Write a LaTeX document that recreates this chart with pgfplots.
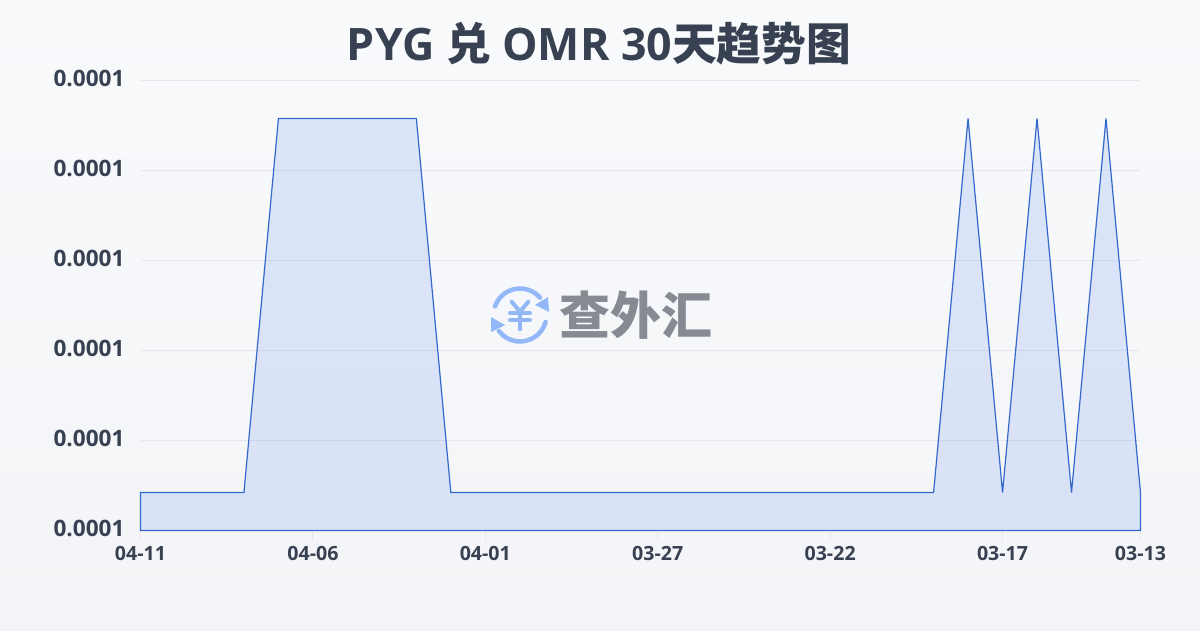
\documentclass[border=0pt]{standalone}
\usepackage{pgfplots}
\pgfplotsset{compat=1.18}
\usepackage{fontspec}
\setmainfont{Open Sans}
\newfontfamily\cjk{Noto Sans CJK SC}
\definecolor{txt}{HTML}{374151}
\definecolor{gridc}{HTML}{E5E7EB}
\definecolor{linec}{HTML}{3568CC}
\definecolor{fillc}{HTML}{2563EB}
\definecolor{logob}{HTML}{93B8F7}
\definecolor{logog}{HTML}{858A93}
\definecolor{bgtop}{HTML}{F8FAFC}
\definecolor{bgbot}{HTML}{F2F4F7}
\pgfplotstableread{
x y
0 0.000100844
1 0.000100844
2 0.000100844
3 0.000100844
4 0.000109156
5 0.000109156
6 0.000109156
7 0.000109156
8 0.000109156
9 0.000100844
10 0.000100844
11 0.000100844
12 0.000100844
13 0.000100844
14 0.000100844
15 0.000100844
16 0.000100844
17 0.000100844
18 0.000100844
19 0.000100844
20 0.000100844
21 0.000100844
22 0.000100844
23 0.000100844
24 0.000109156
25 0.000100844
26 0.000109156
27 0.000100844
28 0.000109156
29 0.000100844
}\ratetable
\begin{document}
\begin{tikzpicture}[x=1pt,y=1pt]
\shade[top color=bgtop, bottom color=bgbot] (0,0) rectangle (1200,630);
\begin{axis}[
  at={(140.5pt,99.5pt)}, anchor=south west,
  width=1000pt, height=450pt, scale only axis,
  xmin=0, xmax=29, ymin=0.0001, ymax=0.00011,
  axis line style={draw=none},
  xtick={0,5,10,15,20,25,29},
  xticklabels={04-11,04-06,04-01,03-27,03-22,03-17,03-13},
  ytick={0.0001,0.000102,0.000104,0.000106,0.000108,0.00011},
  yticklabels={0.0001,0.0001,0.0001,0.0001,0.0001,0.0001},
  scaled y ticks=false,
  ymajorgrids, grid style={draw=gridc, line width=1pt},
  major tick length=10pt,
  xtick style={draw=gridc, line width=1pt},
  ytick style={draw=none},
  xtick pos=bottom,
  tick align=outside,
  x tick label style={font=\fontsize{19.6}{22}\selectfont\bfseries, text=txt, yshift=-3.5pt, inner sep=2pt},
  y tick label style={font=\fontsize{22.6}{24}\selectfont\bfseries, text=txt, xshift=-2.5pt, yshift=2pt},
  clip=false,
]
\addplot[draw=linec, line width=1.2pt, fill=fillc, fill opacity=0.13, draw opacity=1] table[x=x,y=y]{\ratetable} \closedcycle;
\end{axis}
\node[text=txt, font=\bfseries\fontsize{44.7}{50}\selectfont, anchor=center] at (599,586) {PYG {\cjk 兑} OMR 30{\cjk 天趋势图}};
% logo
\begin{scope}[shift={(520,315)}, draw=logob, line width=4.5pt, line cap=round]
  \draw (161:26.5) arc (161:41:26.5);
  \draw (217:26.5) arc (217:345:26.5);
  \fill[logob] (28,18) -- (29,3) -- (15,10) -- cycle;
  \fill[logob] (-29,-2) -- (-29,-17) -- (-15,-10) -- cycle;
  \draw[line width=4pt] (-8.3,13.3) -- (0,3.3) -- (8.3,13.3);
  \draw[line width=4pt] (-10,1.7) -- (10,1.7) (-10,-5) -- (10,-5) (0,3.3) -- (0,-14.3);
\end{scope}
\node[text=logog, font=\cjk\bfseries\fontsize{51}{54}\selectfont, anchor=center] at (636,315) {查外汇};
\end{tikzpicture}
\end{document}
